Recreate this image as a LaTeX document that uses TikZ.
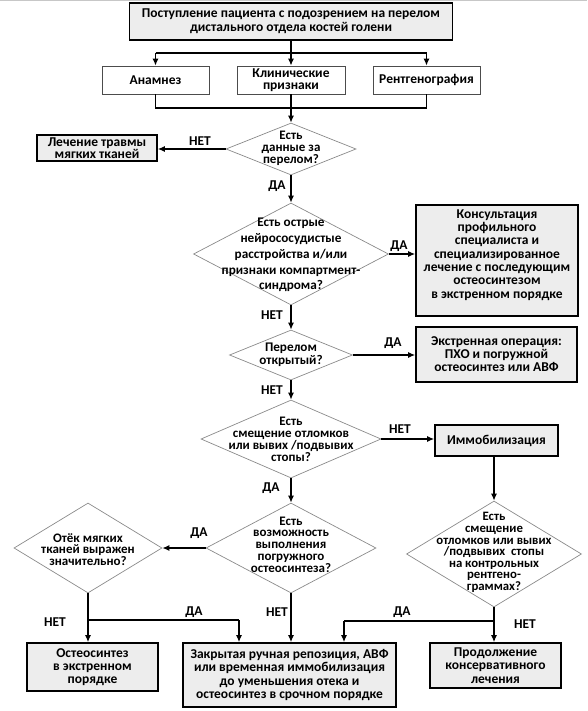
\documentclass[tikz,border=0pt]{standalone}
\usepackage{fontspec}
\setmainfont{Carlito}
\usetikzlibrary{arrows.meta,shapes.geometric}
\definecolor{boxgray}{HTML}{EDEDED}
\definecolor{diagray}{HTML}{8A8A8A}
\begin{document}
\begin{tikzpicture}[x=1pt,y=-1pt,
  font=\bfseries\fontsize{13.5}{13.3}\selectfont,
  graybox/.style={draw=black, line width=1.6pt, fill=boxgray, align=center, inner sep=0pt},
  whitebox/.style={draw=black!70, line width=0.8pt, fill=white, align=center, inner sep=0pt},
  dia/.style={diamond, draw=diagray, line width=0.7pt, inner sep=0pt},
  dtext/.style={align=center, inner sep=0pt, font=\bfseries\fontsize{13}{11.8}\selectfont},
  btext/.style={align=center, inner sep=0pt},
  conn/.style={line width=1.2pt, draw=black},
  arr/.style={conn, -{Latex[length=7pt,width=6pt]}},
  lbl/.style={inner sep=0pt, font=\bfseries\fontsize{13.5}{13}\selectfont}
]
\useasboundingbox (0,0) rectangle (587,711);
\fill[black!22] (0,0) rectangle (587,1.5);

% top
\node[graybox, minimum width=323pt, minimum height=37pt, font=\bfseries\fontsize{13.5}{14.2}\selectfont] (top) at (291,21.5)
  {Поступление пациента с подозрением на перелом\\дистального отдела костей голени};
\node[whitebox, minimum width=107pt, minimum height=28pt] (anam) at (155.5,80) {Анамнез};
\node[whitebox, minimum width=108pt, minimum height=28pt, font=\bfseries\fontsize{13.5}{12.3}\selectfont] (klin) at (291,80) {Клинические\\признаки};
\node[whitebox, minimum width=107pt, minimum height=28pt] (rent) at (426.5,80) {Рентгенография};

\coordinate (b1) at (155.5,53);
\coordinate (b3) at (426.5,53);
\coordinate (m1) at (155.5,108);
\coordinate (m3) at (426.5,108);
\draw[conn] (top.south) -- (top.south |- b1);
\draw[conn] (b1) -- (b3);
\draw[arr] (b1) -- (anam.north);
\draw[arr] (top.south |- b1) -- (klin.north);
\draw[arr] (b3) -- (rent.north);
\draw[conn] (anam.south) -- (m1) -- (m3) -- (rent.south);

% d1
\node[dia, minimum width=130pt, minimum height=52pt] (d1) at (291,149) {};
\node[dtext] (t1) at (291,148.5) {Есть\\данные за\\перелом?};
\draw[arr] (klin.south) -- (d1.north);
\node[graybox, minimum width=120pt, minimum height=26pt, font=\bfseries\fontsize{13.5}{12.3}\selectfont] (les) at (97,148) {Лечение травмы\\мягких тканей};
\draw[arr] (d1.west) -- (d1.west -| les.east);
\node[lbl] (l1) at (200,141) {НЕТ};

% d2
\node[dia, minimum width=195pt, minimum height=102pt] (d2) at (291,254) {};
\node[dtext, font=\bfseries\fontsize{13.2}{15.8}\selectfont] (t2) at (291,255) {Есть острые\\нейрососудистые\\расстройства и/или\\признаки компартмент-\\синдрома?};
\draw[arr] (d1.south) -- (d2.north);
\node[lbl] (l2) at (277,186) {ДА};
\node[graybox, minimum width=162pt, minimum height=111pt] (kons) at (497,260.5) {};
\node[btext] (tk) at (497,255) {Консультация\\профильного\\специалиста и\\специализированное\\лечение с последующим\\остеосинтезом\\в экстренном порядке};
\draw[arr] (d2.east) -- (d2.east -| kons.west);
\node[lbl] (l3) at (399,246) {ДА};

% d3
\node[dia, minimum width=123pt, minimum height=50pt] (d3) at (291,355) {};
\node[dtext, font=\bfseries\fontsize{13.2}{13.3}\selectfont] (t3) at (291,355) {Перелом\\открытый?};
\draw[arr] (d2.south) -- (d3.north);
\node[lbl] (l4) at (272,315) {НЕТ};
\node[graybox, minimum width=161pt, minimum height=55pt, font=\bfseries\fontsize{13.5}{12.9}\selectfont] (ekstr) at (496.5,354.5) {Экстренная операция:\\ПХО и погружной\\остеосинтез или АВФ};
\draw[arr] (d3.east) -- (d3.east -| ekstr.west);
\node[lbl] (l5) at (393,343) {ДА};

% d4
\node[dia, minimum width=180pt, minimum height=78pt] (d4) at (291,439) {};
\node[dtext] (t4) at (291,439.5) {Есть\\смещение отломков\\или вывих /подвывих\\стопы?};
\draw[arr] (d3.south) -- (d4.north);
\node[lbl] (l6) at (272,390) {НЕТ};
\node[graybox, minimum width=123pt, minimum height=31pt] (immob) at (496.5,440.5) {Иммобилизация};
\draw[arr] (d4.east) -- (d4.east -| immob.west);
\node[lbl] (l7) at (400,429) {НЕТ};

% d5
\node[dia, minimum width=170pt, minimum height=90pt] (d5) at (291,548) {};
\node[dtext] (t5) at (291,544.5) {Есть\\возможность\\выполнения\\погружного\\остеосинтеза?};
\draw[arr] (d4.south) -- (d5.north);
\node[lbl] (l8) at (271,488) {ДА};

% d6
\node[dia, minimum width=148pt, minimum height=90pt] (d6) at (88,548) {};
\node[dtext] (t6) at (88,549.5) {Отёк мягких\\тканей выражен\\значительно?};
\draw[arr] (d5.west) -- (d6.east);
\node[lbl] (l9) at (199,533) {ДА};

% d7
\node[dia, minimum width=175pt, minimum height=106pt] (d7) at (494,554) {};
\node[dtext, font=\bfseries\fontsize{12.8}{11.6}\selectfont] (t7) at (494,552.5) {Есть\\смещение\\отломков или вывих\\/подвывих\ \ стопы\\на контрольных\\рентгено-\\граммах?};
\draw[arr] (d7.north |- immob.south) -- (d7.north);

% bottom boxes
\node[graybox, minimum width=131pt, minimum height=48pt] (ost) at (92.5,667) {Остеосинтез\\в экстренном\\порядке};
\node[graybox, minimum width=213pt, minimum height=64pt] (zakr) at (289.5,675) {Закрытая ручная репозиция, АВФ\\или временная иммобилизация\\до уменьшения отека и\\остеосинтез в срочном порядке};
\node[graybox, minimum width=131pt, minimum height=45pt] (prod) at (495.5,665.5) {Продолжение\\консервативного\\лечения};

\coordinate (jL) at (88,620);
\coordinate (jL2) at (239,620);
\coordinate (jR) at (494,621);
\coordinate (jR2) at (344,621);
\draw[arr] (d6.south) -- (d6.south |- ost.north);
\draw[conn] (jL) -- (jL2);
\draw[arr] (jL2) -- (jL2 |- zakr.north);
\draw[arr] (d5.south) -- (d5.south |- zakr.north);
\draw[arr] (d7.south) -- (d7.south |- prod.north);
\draw[conn] (jR) -- (jR2);
\draw[arr] (jR2) -- (jR2 |- zakr.north);

\node[lbl] (l10) at (55,622) {НЕТ};
\node[lbl] (l11) at (194,612) {ДА};
\node[lbl] (l12) at (277,612) {НЕТ};
\node[lbl] (l13) at (402,612) {ДА};
\node[lbl] (l14) at (525,624) {НЕТ};
\end{tikzpicture}
\end{document}
